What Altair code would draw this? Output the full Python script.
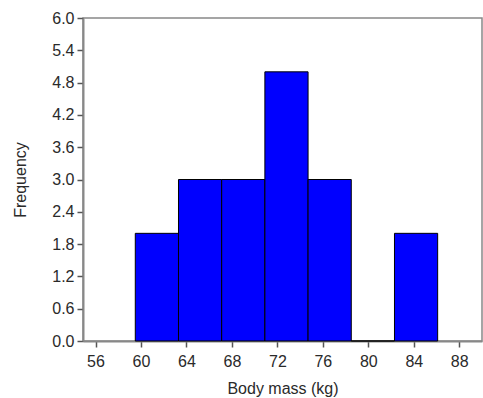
import altair as alt
import pandas as pd

bin_start = [59.5, 63.3, 67.1, 70.9, 74.7, 78.5, 82.3]
bin_end = [63.3, 67.1, 70.9, 74.7, 78.5, 82.3, 86.1]
counts = [2, 3, 3, 5, 3, 0, 2]
x_ticks = [56, 60, 64, 68, 72, 76, 80, 84, 88]
y_ticks = [0.0, 0.6, 1.2, 1.8, 2.4, 3.0, 3.6, 4.2, 4.8, 5.4, 6.0]

df = pd.DataFrame({"start": bin_start, "end": bin_end, "count": counts})

font = "Liberation Sans"
axis_style = dict(
    grid=False, domainColor="#888888", domainWidth=2, tickColor="#555555",
    tickWidth=1.5, tickSize=6, labelColor="#2a2a2a", labelFont=font,
    labelFontSize=16, titleFont=font, titleFontSize=16,
    titleFontWeight="normal", titleColor="#2a2a2a",
)

chart = alt.Chart(df).mark_rect(
    fill="#0000ff", stroke="black", strokeWidth=1
).encode(
    x=alt.X("start:Q", scale=alt.Scale(domain=[54.9, 90], nice=False, zero=False),
            axis=alt.Axis(values=x_ticks, title="Body mass (kg)", format="d",
                          labelPadding=6, titlePadding=11, **axis_style)),
    x2="end:Q",
    y=alt.Y("count:Q", scale=alt.Scale(domain=[0, 6], nice=False),
            axis=alt.Axis(values=y_ticks, title="Frequency", format=".1f",
                          labelPadding=3, titlePadding=23, **axis_style)),
    y2=alt.datum(0),
).properties(
    width=399, height=323,
    autosize=alt.AutoSizeParams(type="none"),
    padding={"left": 83, "top": 18, "right": 1, "bottom": 57},
).configure_view(
    stroke="#888888", strokeWidth=1.5
)

chart.save("out.html", embed_options={"renderer": "svg", "actions": False})
